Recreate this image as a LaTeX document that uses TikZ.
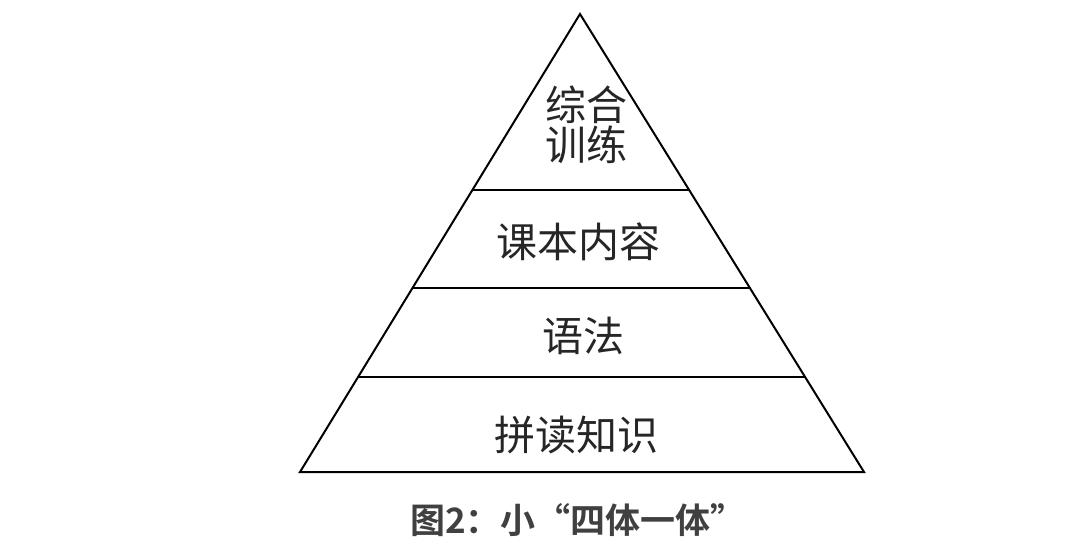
\documentclass[tikz,border=0pt]{standalone}
\usepackage{fontspec}
\newfontfamily\cjk{Noto Sans CJK SC}
\newfontfamily\cjkb[BoldFont={Noto Sans CJK SC Bold}]{Noto Sans CJK SC}
\usetikzlibrary{calc}
\begin{document}
\begin{tikzpicture}[x=1pt,y=-1pt,
  edge/.style={line width=2pt,black},
  lbl/.style={font=\cjk\fontsize{41}{46}\selectfont,inner sep=0pt,text=black!85}]
\useasboundingbox[fill=white] (0,0) rectangle (1092,552);
\coordinate (A) at (580,14);
\coordinate (BL) at (300,472);
\coordinate (BR) at (864,472);
\draw[edge,line join=miter] (A) -- (BR) -- (BL) -- cycle;
\foreach \y/\n in {190/a,288/b,377/c}{
  \coordinate (L\n) at ($(A)!{(\y-14)/458}!(BL)$);
  \coordinate (R\n) at ($(A)!{(\y-14)/458}!(BR)$);
  \draw[edge] (L\n) -- (R\n);
}
\node[lbl,align=center] (t1) at (586,125) {综合\\[-6pt]训练};
\node[lbl] (t2) at (578,242) {课本内容};
\node[lbl] (t3) at (583,336) {语法};
\node[lbl] (t4) at (576,435) {拼读知识};
\node[font=\cjkb\bfseries\fontsize{35}{40}\selectfont,text=black!75,inner sep=0pt] (cap) at (578,520) {图2：小“四体一体”};
\end{tikzpicture}
\end{document}
